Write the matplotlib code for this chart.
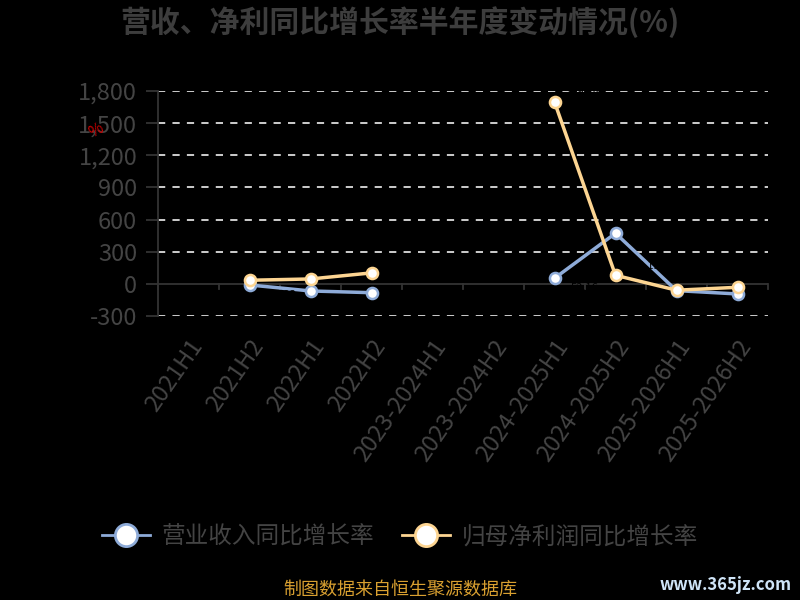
import matplotlib
matplotlib.use("Agg")
import matplotlib.pyplot as plt
import numpy as np
from matplotlib.lines import Line2D

plt.rcParams['font.family'] = ['Noto Sans CJK SC', 'DejaVu Sans']

categories = ["2021H1", "2021H2", "2022H1", "2022H2", "2023-2024H1", "2023-2024H2",
              "2024-2025H1", "2024-2025H2", "2025-2026H1", "2025-2026H2"]
revenue_growth = [np.nan, -10.23, -66.35, -82.47, np.nan, np.nan, 52.16, 472.35, -63.12, -94.28]
profit_growth = [np.nan, 33.62, 45.71, 102.37, np.nan, np.nan, 1697.4, 80.15, -59.28, -32.05]
yticks = [-300, 0, 300, 600, 900, 1200, 1500, 1800]

title = "营收、净利同比增长率半年度变动情况(%)"
series_names = ["营业收入同比增长率", "归母净利润同比增长率"]
footer = "制图数据来自恒生聚源数据库"

blue = "#8eabd8"
orange = "#fdd592"
bg = "#000000"

fig = plt.figure(figsize=(8, 6), dpi=100, facecolor=bg)
ax = fig.add_axes([158/800, 1-316/600, (768-158)/800, (316-91)/600], facecolor=bg)

x = np.arange(len(categories))
ax.set_xlim(-0.5, len(categories)-0.5)
ax.set_ylim(-300, 1800)

for yv in yticks:
    if yv != 0:
        ax.axhline(yv, color="#dddddd", lw=1.3, ls=(0, (4, 4)), zorder=1)
ax.axhline(0, color="#333333", lw=1.3, zorder=1)
for b in np.arange(-0.5, len(categories), 1.0):
    ax.plot([b, b], [0, -50], color="#333333", lw=1.3, zorder=1, clip_on=False)

for vals, col, dy in [(revenue_growth, blue, -7), (profit_growth, orange, 7)]:
    ax.plot(x, vals, color=col, lw=2.5, marker="o", ms=8, mfc="white",
            mec=col, mew=1.8, zorder=3)
    for xi, v in zip(x, vals):
        if not np.isnan(v):
            ax.annotate(f"{v:.2f}", (xi, v), xytext=(22, dy), textcoords="offset points",
                        color="#000000", fontsize=8, ha="center", va="center", zorder=4)

ax.set_yticks(yticks)
ax.set_yticklabels([f"{v:,}" for v in yticks], fontsize=17, color="#444444")
ax.set_xticks(x)
ax.set_xticklabels(categories, rotation=55, ha="right", rotation_mode="anchor",
                   fontsize=17, color="#444444")
ax.tick_params(axis="x", length=0, pad=14)
ax.tick_params(axis="y", length=9, color="#333333", width=1.3, pad=6)
for s in ["top", "right", "bottom"]:
    ax.spines[s].set_visible(False)
ax.spines["left"].set_color("#333333")
ax.spines["left"].set_linewidth(1.3)

fig.text(0.5, 1-22/600, title, ha="center", va="center", fontsize=21.5,
         fontweight="bold", color="#3d3d3d")
fig.text(96/800, 1-131/600, "%", color="#cc0000", fontsize=11, rotation=30,
         ha="center", va="center")

handles = [Line2D([0], [0], color=c, lw=2, marker="o", ms=16, mfc="white", mec=c, mew=2)
           for c in (blue, orange)]
leg = fig.legend(handles, series_names, loc="center", bbox_to_anchor=(0.5, 1-537/600),
                 ncol=2, frameon=False, fontsize=17, handlelength=2.0,
                 columnspacing=1.2, handletextpad=0.5)
for t in leg.get_texts():
    t.set_color("#444444")

fig.text(0.5, 1-590/600, footer, ha="center", va="center", fontsize=13, color="#d9a030")
fig.text(0.99, 1-585/600, "www.365jz.com", ha="right", va="center", fontsize=12,
         color="#cfe4f7", fontweight="bold", style="italic")

fig.savefig("out.png", dpi=100, facecolor=bg)
